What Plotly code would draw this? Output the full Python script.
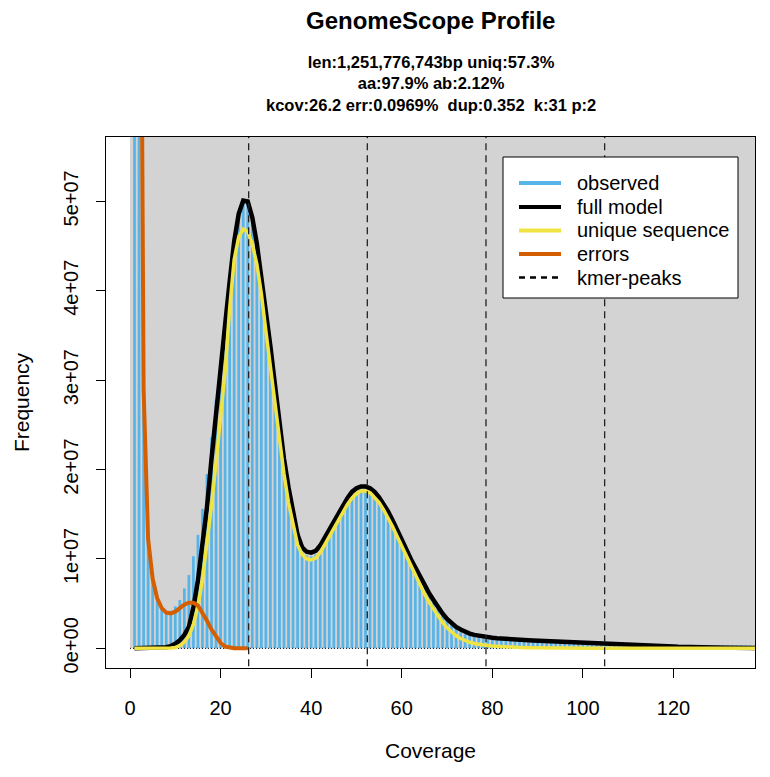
import plotly.graph_objects as go

# ---------------- data ----------------
coverage = list(range(1, 139))

# observed k-mer frequency (units of 1e7)
observed = [
    60.0, 9.0, 2.7, 1.2, 0.77, 0.55, 0.45, 0.41, 0.42, 0.47,
    0.54, 0.67, 0.82, 1.03, 1.27, 1.56, 1.95, 2.36, 2.78, 3.21,
    3.64, 4.10, 4.55, 4.86, 5.00, 4.98, 4.80, 4.50, 4.15, 3.78,
    3.36, 2.92, 2.47, 2.08, 1.77, 1.47, 1.24, 1.10, 1.04, 1.03,
    1.05, 1.11, 1.20, 1.30, 1.39, 1.48, 1.56, 1.64, 1.71, 1.75,
    1.77, 1.77, 1.75, 1.71, 1.65, 1.58, 1.49, 1.39, 1.29, 1.19,
    1.08, 0.97, 0.87, 0.77, 0.68, 0.60, 0.51, 0.44, 0.37, 0.31,
    0.26, 0.22, 0.18, 0.16, 0.14, 0.13, 0.12, 0.11, 0.10, 0.095,
    0.090, 0.087, 0.085, 0.083, 0.081, 0.080, 0.079, 0.078, 0.077, 0.076,
    0.075, 0.074, 0.073, 0.072, 0.071, 0.070, 0.069, 0.068, 0.067, 0.066,
    0.065, 0.063, 0.062, 0.061, 0.060, 0.058, 0.057, 0.055, 0.054, 0.052,
    0.051, 0.050, 0.048, 0.047, 0.046, 0.045, 0.044, 0.043, 0.042, 0.041,
    0.040, 0.039, 0.039, 0.038, 0.037, 0.037, 0.036, 0.036, 0.035, 0.035,
    0.034, 0.034, 0.033, 0.033, 0.033, 0.032, 0.032, 0.032,
]

full_model = [
    0.0, 0.0, 0.0, 0.0, 0.0, 0.002, 0.005, 0.012, 0.025, 0.05,
    0.09, 0.15, 0.24, 0.46, 0.76, 1.13, 1.58, 2.12, 2.65, 3.15,
    3.62, 4.10, 4.55, 4.86, 5.01, 5.00, 4.82, 4.53, 4.17, 3.80,
    3.38, 2.95, 2.50, 2.12, 1.80, 1.50, 1.27, 1.13, 1.08, 1.07,
    1.09, 1.15, 1.24, 1.33, 1.43, 1.52, 1.60, 1.68, 1.75, 1.79,
    1.81, 1.81, 1.79, 1.75, 1.69, 1.62, 1.53, 1.43, 1.33, 1.22,
    1.11, 1.00, 0.90, 0.80, 0.71, 0.62, 0.54, 0.46, 0.39, 0.33,
    0.28, 0.24, 0.21, 0.185, 0.165, 0.150, 0.140, 0.132, 0.125, 0.119,
    0.114, 0.109, 0.105, 0.101, 0.098, 0.095, 0.092, 0.090, 0.087, 0.085,
    0.083, 0.081, 0.079, 0.077, 0.075, 0.074, 0.072, 0.071, 0.069, 0.068,
    0.066, 0.065, 0.063, 0.062, 0.060, 0.058, 0.056, 0.054, 0.052, 0.050,
    0.048, 0.046, 0.043, 0.041, 0.038, 0.035, 0.032, 0.028, 0.024, 0.020,
    0.017, 0.015, 0.013, 0.012, 0.011, 0.010, 0.009, 0.008, 0.008, 0.007,
    0.007, 0.006, 0.006, 0.005, 0.005, 0.005, 0.004, 0.004,
]

unique_sequence = [
    0.0, 0.0, 0.0, 0.0, 0.0, 0.0, 0.0, 0.0, 0.003, 0.01,
    0.03, 0.07, 0.14, 0.27, 0.47, 0.77, 1.15, 1.60, 2.08, 2.55,
    3.10, 3.80, 4.35, 4.60, 4.69, 4.66, 4.52, 4.30, 3.97, 3.55,
    3.15, 2.75, 2.33, 1.95, 1.63, 1.37, 1.16, 1.05, 1.00, 0.99,
    1.01, 1.07, 1.16, 1.25, 1.35, 1.44, 1.53, 1.61, 1.68, 1.73,
    1.76, 1.76, 1.74, 1.69, 1.63, 1.55, 1.46, 1.36, 1.25, 1.14,
    1.03, 0.92, 0.81, 0.71, 0.61, 0.52, 0.44, 0.36, 0.29, 0.23,
    0.18, 0.14, 0.11, 0.085, 0.068, 0.055, 0.045, 0.037, 0.031, 0.026,
    0.022, 0.018, 0.015, 0.012, 0.010, 0.008, 0.007, 0.006, 0.005, 0.004,
    0.003, 0.003, 0.003, 0.003, 0.003, 0.002, 0.002, 0.002, 0.002, 0.002,
    0.001, 0.001, 0.001, 0.001, 0.001, 0.001, 0.001, 0.001, 0.001, 0.001,
    0.0, 0.0, 0.0, 0.0, 0.0, 0.0, 0.0, 0.0, 0.0, 0.0,
    0.0, 0.0, 0.0, 0.0, 0.0, 0.0, 0.0, 0.0, 0.0, 0.0,
    0.0, 0.0, 0.0, 0.0, 0.0, 0.0, 0.0, 0.0,
]

error_coverage = list(range(1, 27))
errors = [
    30.0, 12.0, 2.9, 1.22, 0.78, 0.56, 0.45, 0.40, 0.39, 0.41,
    0.45, 0.49, 0.51, 0.51, 0.48, 0.40, 0.31, 0.21, 0.13, 0.06,
    0.02, 0.005, 0.0, 0.0, 0.0, 0.0,
]

kmer_peaks = [26.2, 52.4, 78.6, 104.8]
UNIT = 1e7

legend_labels = ["observed", "full model", "unique sequence", "errors", "kmer-peaks"]
title_text = "GenomeScope Profile"
subtitle_lines = [
    "len:1,251,776,743bp uniq:57.3%",
    "aa:97.9% ab:2.12%",
    "kcov:26.2 err:0.0969%\u00a0 dup:0.352\u00a0 k:31 p:2",
]
x_tickvals = [0, 20, 40, 60, 80, 100, 120]
y_tickvals = [0, 1e7, 2e7, 3e7, 4e7, 5e7]
y_ticktext = ["0e+00", "1e+07", "2e+07", "3e+07", "4e+07", "5e+07"]

# ---------------- style ----------------
C_HIST = "#56B4E9"
C_FULL = "black"
C_UNIQ = "#F0E442"
C_ERR = "#D55E00"
C_PEAK = "#222222"
C_BG = "#D3D3D3"
FONT = "Liberation Sans, Arial, Helvetica, sans-serif"

W, H = 770, 777
L, R, T, B = 106, 15, 137, 109
PW, PH = W - L - R, H - T - B


def px_x(px):
    return (px - L) / PW


def px_y(py):
    return (H - B - py) / PH


fig = go.Figure()

fig.add_trace(go.Bar(
    x=coverage, y=[v * UNIT for v in observed], width=0.6,
    marker=dict(color=C_HIST, line=dict(width=0)), showlegend=False,
    name=legend_labels[0],
))

# dotted baseline
fig.add_trace(go.Scatter(
    x=[0, coverage[-1] + 5], y=[0, 0], mode="lines",
    line=dict(color="black", width=1, dash="1px,2px"), showlegend=False, hoverinfo="skip",
))

fig.add_trace(go.Scatter(
    x=coverage, y=[v * UNIT for v in full_model], mode="lines",
    line=dict(color=C_FULL, width=4.5), name=legend_labels[1], showlegend=False,
))
fig.add_trace(go.Scatter(
    x=coverage, y=[v * UNIT for v in unique_sequence], mode="lines",
    line=dict(color=C_UNIQ, width=3.5), name=legend_labels[2], showlegend=False,
))
fig.add_trace(go.Scatter(
    x=error_coverage, y=[v * UNIT for v in errors], mode="lines",
    line=dict(color=C_ERR, width=4), name=legend_labels[3], showlegend=False,
))
for p in kmer_peaks:
    fig.add_trace(go.Scatter(
        x=[p, p], y=[-1e8, 1e9], mode="lines",
        line=dict(color=C_PEAK, width=1.3, dash="7px,5px"),
        name=legend_labels[4], showlegend=False, hoverinfo="skip",
    ))

shapes = [
    dict(type="rect", xref="x", yref="y", x0=0, x1=1000, y0=0, y1=1e9,
         fillcolor=C_BG, line=dict(width=0), layer="below"),
]

# manual legend (R style)
shapes.append(dict(type="rect", xref="paper", yref="paper",
                   x0=px_x(503), x1=px_x(738), y0=px_y(298), y1=px_y(157),
                   fillcolor="white", line=dict(color="black", width=1), layer="above"))
legend_styles = [
    (C_HIST, 4, "solid"),
    (C_FULL, 4, "solid"),
    (C_UNIQ, 4, "solid"),
    (C_ERR, 4, "solid"),
    ("black", 2.5, "6px,5px"),
]
row_y = [183, 207, 230.5, 254, 277.5]
annotations = []
for lab, (col, wid, dash), ry in zip(legend_labels, legend_styles, row_y):
    shapes.append(dict(type="line", xref="paper", yref="paper",
                       x0=px_x(519), x1=px_x(561), y0=px_y(ry), y1=px_y(ry),
                       line=dict(color=col, width=wid, dash=dash), layer="above"))
    annotations.append(dict(xref="paper", yref="paper", x=px_x(575), y=px_y(ry),
                            xanchor="left", yanchor="middle", text=lab, showarrow=False,
                            font=dict(family=FONT, size=20, color="black")))

annotations.append(dict(xref="paper", yref="paper", x=px_x(430.5), y=px_y(21),
                        xanchor="center", yanchor="middle", showarrow=False,
                        text="<b>" + title_text + "</b>",
                        font=dict(family=FONT, size=24, color="black")))
annotations.append(dict(xref="paper", yref="paper", x=px_x(430.5), y=px_y(83),
                        xanchor="center", yanchor="middle", showarrow=False,
                        align="center",
                        text="<br>".join("<b>" + s + "</b>" for s in subtitle_lines),
                        font=dict(family=FONT, size=16.5, color="black")))

fig.update_layout(
    width=W, height=H,
    margin=dict(l=L, r=R, t=T, b=B, pad=0),
    paper_bgcolor="white", plot_bgcolor="white",
    showlegend=False, barmode="overlay",
    shapes=shapes, annotations=annotations,
    font=dict(family=FONT, color="black"),
    xaxis=dict(
        range=[-5.3, 138.0], tickvals=x_tickvals, ticks="outside", ticklen=9,
        tickwidth=1, tickcolor="black", showline=True, mirror=True,
        linecolor="black", linewidth=1, showgrid=False, zeroline=False,
        tickfont=dict(family=FONT, size=20, color="black"),
        title=dict(text="Coverage", font=dict(family=FONT, size=21, color="black"), standoff=25),
        automargin=False, ticklabelstandoff=13,
    ),
    yaxis=dict(
        range=[-0.22e7, 5.72e7], tickvals=y_tickvals, ticktext=y_ticktext,
        tickangle=-90, ticks="outside", ticklen=9, tickwidth=1, tickcolor="black",
        showline=True, mirror=True, linecolor="black", linewidth=1,
        showgrid=False, zeroline=False,
        tickfont=dict(family=FONT, size=20, color="black"),
        title=dict(text="Frequency", font=dict(family=FONT, size=21, color="black"), standoff=24),
        automargin=False, ticklabelstandoff=10,
    ),
)

fig.write_html("out.html")
